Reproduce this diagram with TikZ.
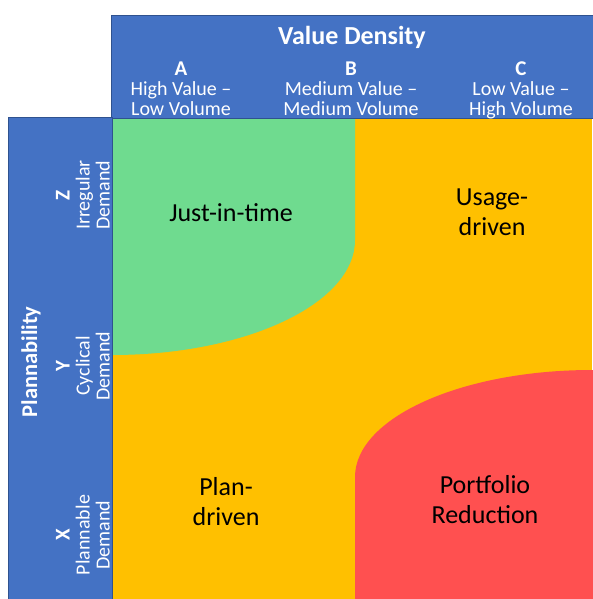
\documentclass[tikz,border=0pt]{standalone}
\usepackage{fontspec}
\setmainfont{Carlito}
\definecolor{hdrblue}{HTML}{4472C4}
\definecolor{hdredge}{HTML}{2F528F}
\definecolor{jitgreen}{HTML}{6FDB8F}
\definecolor{usegold}{HTML}{FFC000}
\definecolor{cutred}{HTML}{FF5050}
\newcommand{\hdrkeyfont}{\bfseries\fontsize{21}{20}\selectfont}
\tikzset{
  hdr/.style={fill=hdrblue, draw=hdredge, line width=0.75pt},
  hdrtitle/.style={text=white, font=\bfseries\fontsize{26}{30}\selectfont},
  hdrtxt/.style={text=white, align=center, inner sep=0pt, font=\fontsize{20}{20}\selectfont},
  quad/.style={align=center, inner sep=0pt, font=\fontsize{26}{30}\selectfont}
}
\begin{document}
\begin{tikzpicture}[x=1pt,y=-1pt]
\useasboundingbox (0,0) rectangle (592,599);

\fill[usegold] (112,118) rectangle (592,599);
\fill[jitgreen] (112,118) -- (355,118) -- (355,240)
    .. controls (355,303.5) and (246,355) .. (112,355) -- cycle;
\fill[cutred] (355,599) -- (355,477)
    .. controls (355,418) and (461,370) .. (592,370) -- (596,370) -- (596,603) -- (355,603) -- cycle;

\draw[hdr] (111,15) rectangle (600,118);
\draw[hdr] (8,117) rectangle (112,606);

\node[hdrtitle] (vd) at (352,37) {Value Density};
\node[hdrtxt, anchor=north] (colA) at (181,62) {{\hdrkeyfont A}\\High Value –\\Low Volume};
\node[hdrtxt, anchor=north] (colB) at (351,62) {{\hdrkeyfont B}\\Medium Value –\\Medium Volume};
\node[hdrtxt, anchor=north] (colC) at (521,62) {{\hdrkeyfont C}\\Low Value –\\High Volume};

\node[hdrtitle, font=\bfseries\fontsize{22.5}{30}\selectfont, rotate=90] (pl) at (31,362) {Plannability};
\node[hdrtxt, rotate=90] (rowZ) at (83,195) {{\hdrkeyfont Z}\\Irregular\\Demand};
\node[hdrtxt, rotate=90] (rowY) at (83,366) {{\hdrkeyfont Y}\\Cyclical\\Demand};
\node[hdrtxt, rotate=90] (rowX) at (83,535) {{\hdrkeyfont X}\\Plannable\\Demand};

\node[quad] (jit) at (231,213) {Just-in-time};
\node[quad] (usage) at (492,212) {Usage-\\driven};
\node[quad] (plan) at (226,502) {Plan-\\driven};
\node[quad] (port) at (485,500) {Portfolio\\Reduction};
\end{tikzpicture}
\end{document}
